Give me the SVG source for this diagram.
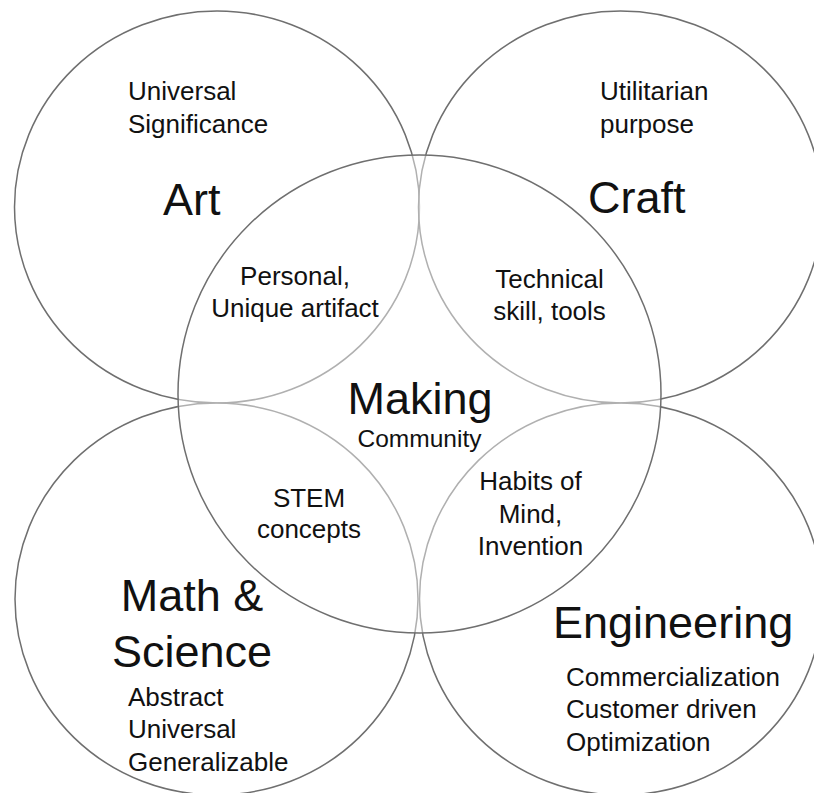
<svg xmlns="http://www.w3.org/2000/svg" width="814" height="793" viewBox="0 0 814 793">
<style>
  .c { fill: #ffffff; fill-opacity: 0.45; stroke: #6f6f6f; stroke-width: 1.5; }
  text { font-family: "Liberation Sans", Arial, Helvetica, sans-serif; fill: #111111; }
  .big { font-size: 45px; }
  .small { font-size: 26px; }
  .mid { text-anchor: middle; }
</style>
<rect x="0" y="0" width="814" height="793" fill="#ffffff"/>
<g id="art">
  <ellipse class="c" cx="217" cy="207" rx="202.5" ry="196"/>
  <text class="small" x="128" y="100">Universal</text>
  <text class="small" x="128" y="133">Significance</text>
  <text class="big" x="163" y="215">Art</text>
</g>
<g id="craft">
  <ellipse class="c" cx="620.5" cy="207" rx="202" ry="196"/>
  <text class="small" x="600" y="100">Utilitarian</text>
  <text class="small" x="600" y="133">purpose</text>
  <text class="big" x="588" y="213">Craft</text>
</g>
<g id="math-science">
  <ellipse class="c" cx="216.5" cy="599" rx="201.5" ry="196"/>
  <text class="big mid" x="192" y="611">Math &amp;</text>
  <text class="big mid" x="192" y="667">Science</text>
  <text class="small" x="128" y="706">Abstract</text>
  <text class="small" x="128" y="738">Universal</text>
  <text class="small" x="128" y="771">Generalizable</text>
</g>
<g id="engineering">
  <ellipse class="c" cx="621" cy="599" rx="201.5" ry="196"/>
  <text class="big" x="553" y="638">Engineering</text>
  <text class="small" x="566" y="686">Commercialization</text>
  <text class="small" x="566" y="718">Customer driven</text>
  <text class="small" x="566" y="751">Optimization</text>
</g>
<g id="making">
  <ellipse class="c" cx="419.5" cy="394" rx="241.5" ry="239"/>
  <text class="big mid" x="420" y="414">Making</text>
  <text class="mid" x="419.5" y="447" font-size="24.5px">Community</text>
</g>
<g id="art-making">
  <text class="small mid" x="295" y="285">Personal,</text>
  <text class="small mid" x="295" y="317">Unique artifact</text>
</g>
<g id="craft-making">
  <text class="small mid" x="549.5" y="288">Technical</text>
  <text class="small mid" x="549.5" y="320">skill, tools</text>
</g>
<g id="math-making">
  <text class="small mid" x="309" y="507">STEM</text>
  <text class="small mid" x="309" y="538">concepts</text>
</g>
<g id="engineering-making">
  <text class="small mid" x="530.5" y="490">Habits of</text>
  <text class="small mid" x="530.5" y="523">Mind,</text>
  <text class="small mid" x="530.5" y="555">Invention</text>
</g>
</svg>
